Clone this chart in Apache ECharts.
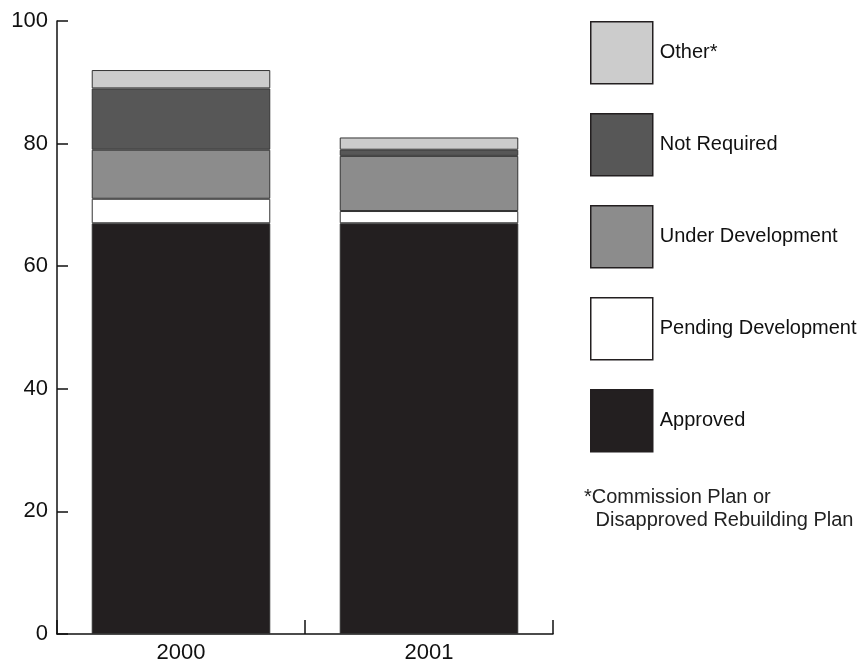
<!DOCTYPE html>
<html>
<head>
<meta charset="utf-8">
<script src="https://cdn.jsdelivr.net/npm/echarts@6/dist/echarts.min.js"></script>
<style>
html,body{margin:0;padding:0;background:#fff;}
#chart{width:864px;height:664px;}
</style>
</head>
<body>
<div id="chart"></div>
<script>
var categories = ['2000', '2001'];
var approved = [67, 67];
var pending = [4, 2];
var underDev = [8, 9];
var notRequired = [10, 1];
var other = [3, 2];
var yTicks = [0, 20, 40, 60, 80, 100];
var legendOrder = ['Other*', 'Not Required', 'Under Development', 'Pending Development', 'Approved'];
var footnote = ['*Commission Plan or', ' Disapproved Rebuilding Plan'];

var FONT = '"Liberation Sans", Arial, Helvetica, sans-serif';
var chart = echarts.init(document.getElementById('chart'), null, {renderer: 'canvas'});

function mk(name, data, color) {
  return {
    name: name, type: 'bar', stack: 'total', data: data,
    barWidth: '72%',
    itemStyle: {color: color, borderColor: '#333', borderWidth: 1},
    emphasis: {disabled: true}
  };
}

chart.setOption({
  animation: false,
  backgroundColor: '#fff',
  grid: {left: 57, right: 311, top: 21, bottom: 30, containLabel: false},
  xAxis: {
    type: 'category', data: categories, boundaryGap: true,
    axisLine: {show: true, lineStyle: {color: '#111', width: 1.5}},
    axisTick: {show: true, interval: 0, inside: true, length: 14, alignWithLabel: false, lineStyle: {color: '#111', width: 1.5}},
    axisLabel: {color: '#111', fontSize: 22, fontFamily: FONT, margin: 8}
  },
  yAxis: {
    type: 'value', min: yTicks[0], max: yTicks[yTicks.length - 1], interval: yTicks[1] - yTicks[0],
    axisLine: {show: true, lineStyle: {color: '#111', width: 1.5}},
    axisTick: {show: true, inside: true, length: 11, lineStyle: {color: '#111', width: 1.5}},
    splitLine: {show: false},
    axisLabel: {color: '#111', fontSize: 22, fontFamily: FONT, margin: 9}
  },
  legend: {
    orient: 'vertical', left: 585, top: 16,
    itemWidth: 62, itemHeight: 62, itemGap: 28.5,
    icon: 'rect',
    data: legendOrder,
    selectedMode: false,
    itemStyle: {borderColor: '#231f20', borderWidth: 1.5},
    textStyle: {color: '#111', fontSize: 20, fontFamily: FONT, padding: [0, 0, 0, 2]}
  },
  graphic: [
    {type: 'text', left: 584, top: 487, style: {text: footnote[0], fill: '#222', font: '20px ' + FONT}},
    {type: 'text', left: 590, top: 510, style: {text: footnote[1], fill: '#222', font: '20px ' + FONT}}
  ],
  series: [
    mk('Approved', approved, '#231f20'),
    mk('Pending Development', pending, '#ffffff'),
    mk('Under Development', underDev, '#8c8c8c'),
    mk('Not Required', notRequired, '#575757'),
    mk('Other*', other, '#cccccc')
  ]
});
</script>
</body>
</html>
